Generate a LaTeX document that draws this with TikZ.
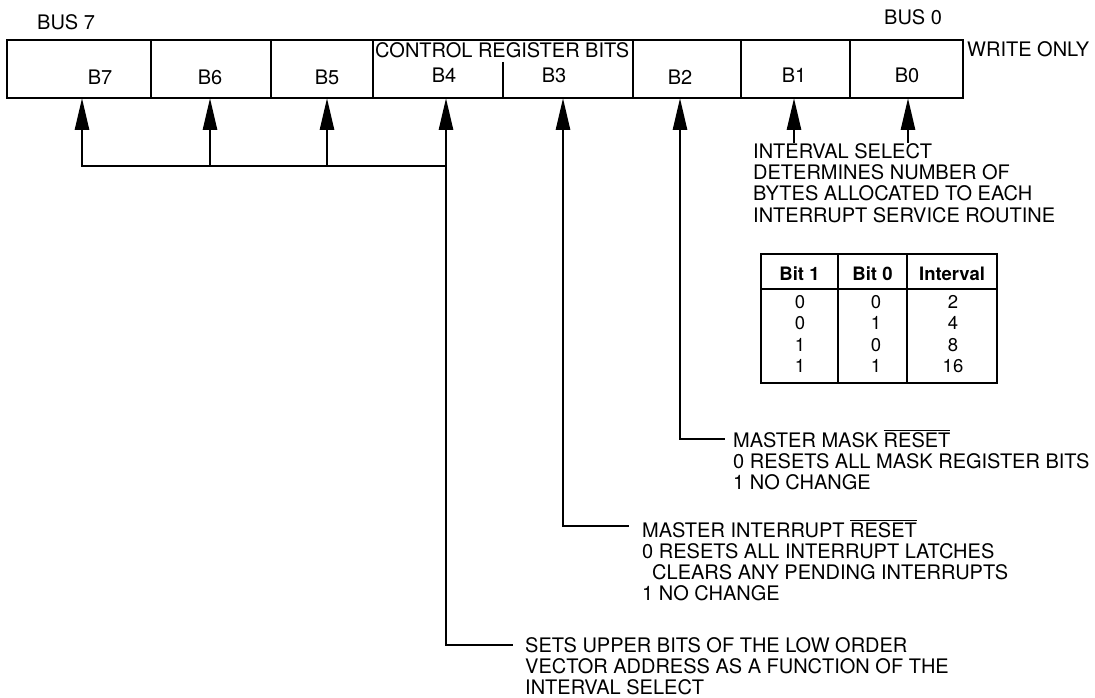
\documentclass[tikz,border=0pt]{standalone}
\usepackage{fontspec}
\setmainfont{TeX Gyre Heros}
\usetikzlibrary{arrows.meta}
\tikzset{
  lbl/.style={inner sep=0pt, anchor=base west, font=\fontsize{20}{21}\selectfont},
  blbl/.style={inner sep=0pt, anchor=base, font=\fontsize{20}{21}\selectfont},
  tbl/.style={inner sep=0pt, anchor=base, font=\fontsize{18.5}{20}\selectfont},
  tblh/.style={inner sep=0pt, anchor=base, font=\fontsize{18.5}{20}\selectfont\bfseries},
  boxline/.style={line width=2.6pt},
  wire/.style={line width=2.8pt},
  uparrow/.style={line width=2.8pt, -{Triangle[length=32pt,width=14pt]}},
}
\begin{document}
\begin{tikzpicture}[x=1pt,y=-1pt]
\useasboundingbox (0,0) rectangle (1095,698);
% register box
\draw[boxline] (7,40) rectangle (963,98);
\foreach \xx in {151,271,373,633,741,850} \draw[boxline] (\xx,40) -- (\xx,98);
\draw[boxline] (503,62) -- (503,98);
% cell labels
\node[blbl] (l7) at (100,85) {B7};
\node[blbl] (l6) at (210,85) {B6};
\node[blbl] (l5) at (327,85) {B5};
\node[blbl] (l4) at (444,83) {B4};
\node[blbl] (l3) at (554,83) {B3};
\node[blbl] (l2) at (680,85) {B2};
\node[blbl] (l1) at (794,83) {B1};
\node[blbl] (l0) at (907,83) {B0};
\node[lbl] (crb) at (375,58) {CONTROL REGISTER BITS};
\node[lbl] (bus7) at (37,30) {BUS 7};
\node[lbl] (bus0) at (884,25) {BUS 0};
\node[lbl] (wo) at (967,57) {WRITE ONLY};
% arrow tips on box bottom
\coordinate (t7) at (82,98);
\coordinate (t6) at (210,98);
\coordinate (t5) at (327,98);
\coordinate (t4) at (446,98);
\coordinate (t3) at (563,98);
\coordinate (t2) at (680,98);
\coordinate (t1) at (794,98);
\coordinate (t0) at (908,98);
% feet
\coordinate (f7) at (82,166);
\coordinate (f6) at (210,166);
\coordinate (f5) at (327,166);
\coordinate (j4) at (446,166);
\coordinate (f4) at (446,645);
\coordinate (e4) at (512,645);
\coordinate (f3) at (563,526);
\coordinate (e3) at (628,526);
\coordinate (f2) at (680,439);
\coordinate (e2) at (724,439);
\coordinate (f1) at (794,143);
\coordinate (f0) at (908,143);
\draw[uparrow] (f7) -- (t7);
\draw[uparrow] (f6) -- (t6);
\draw[uparrow] (f5) -- (t5);
\draw[uparrow] (f4) -- (t4);
\draw[uparrow] (f3) -- (t3);
\draw[uparrow] (f2) -- (t2);
\draw[uparrow] (f1) -- (t1);
\draw[uparrow] (f0) -- (t0);
\draw[wire, line cap=rect] (f7) -- (j4);
\draw[wire, line cap=rect] (f4) -- (e4);
\draw[wire, line cap=rect] (f3) -- (e3);
\draw[wire, line cap=rect] (f2) -- (e2);
% interval select text
\node[lbl] (is1) at (753,158) {INTERVAL SELECT};
\node[lbl] (is2) at (753,179) {DETERMINES NUMBER OF};
\node[lbl] (is3) at (753,200) {BYTES ALLOCATED TO EACH};
\node[lbl] (is4) at (753,222) {INTERRUPT SERVICE ROUTINE};
% table
\draw[boxline] (761,254) rectangle (997,383);
\draw[boxline] (761,289) -- (997,289);
\draw[boxline] (838,254) -- (838,383);
\draw[boxline] (907,254) -- (907,383);
\node[tblh] (h1) at (799.5,280) {Bit 1};
\node[tblh] (h2) at (872.5,280) {Bit 0};
\node[tblh] (h3) at (952,280) {Interval};
\node[tbl] (r1a) at (800,308) {0};
\node[tbl] (r1b) at (876,308) {0};
\node[tbl] (r1c) at (953,308) {2};
\node[tbl] (r2a) at (800,329) {0};
\node[tbl] (r2b) at (876,329) {1};
\node[tbl] (r2c) at (953,329) {4};
\node[tbl] (r3a) at (800,351) {1};
\node[tbl] (r3b) at (876,351) {0};
\node[tbl] (r3c) at (953,351) {8};
\node[tbl] (r4a) at (800,372) {1};
\node[tbl] (r4b) at (876,372) {1};
\node[tbl] (r4c) at (953,372) {16};
% B2 text
\node[lbl] (m1) at (733,447) {MASTER MASK $\overline{\mbox{RESET}}$};
\node[lbl] (m2) at (733,468) {0 RESETS ALL MASK REGISTER BITS};
\node[lbl] (m3) at (733,489) {1 NO CHANGE};
% B3 text
\node[lbl] (i1) at (642,537) {MASTER INTERRUPT $\overline{\mbox{RESET}}$};
\node[lbl] (i2) at (642,558) {0 RESETS ALL INTERRUPT LATCHES};
\node[lbl] (i3) at (652,579) {CLEARS ANY PENDING INTERRUPTS};
\node[lbl] (i4) at (642,600) {1 NO CHANGE};
% B4 text
\node[lbl] (s1) at (525,652) {SETS UPPER BITS OF THE LOW ORDER};
\node[lbl] (s2) at (525,673) {VECTOR ADDRESS AS A FUNCTION OF THE};
\node[lbl] (s3) at (525,694) {INTERVAL SELECT};
\end{tikzpicture}
\end{document}
